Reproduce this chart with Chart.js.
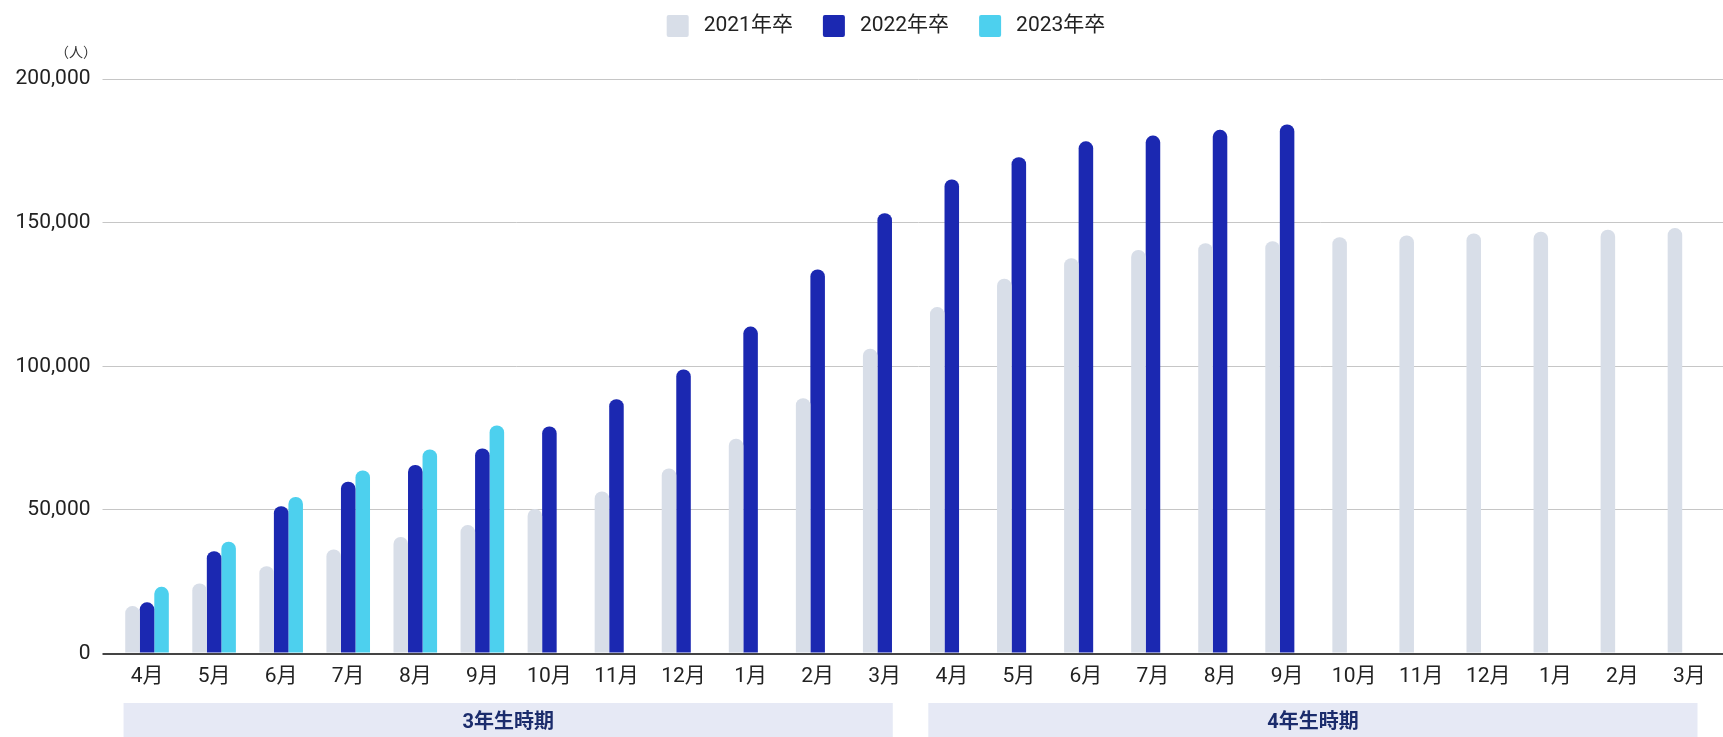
<!DOCTYPE html>
<html lang="ja">
<head>
<meta charset="utf-8">
<script src="https://cdn.jsdelivr.net/npm/chart.js@4"></script>
<style>
  html, body { margin: 0; padding: 0; background: #fff; }
  #wrap { width: 1723px; height: 737px; position: relative; }
</style>
</head>
<body>
<div id="wrap"><canvas id="chart"></canvas></div>
<script>
// months on the x axis (3年生 Apr-Mar, then 4年生 Apr-Mar)
const months = ['4月','5月','6月','7月','8月','9月','10月','11月','12月','1月','2月','3月',
                '4月','5月','6月','7月','8月','9月','10月','11月','12月','1月','2月','3月'];

const seriesNames = ['2021年卒', '2022年卒', '2023年卒'];

const grad2021 = [16500, 24400, 30400, 36200, 40600, 44700, 50300, 56400, 64400, 74800, 88900, 106100,
                  120600, 130500, 137600, 140500, 142800, 143500, 144900, 145500, 146200, 146800, 147500, 148100];
const grad2022 = [17800, 35600, 51300, 59800, 65600, 71400, 79000, 88500, 98900, 113800, 133700, 153300,
                  165000, 172800, 178300, 180300, 182300, 184200, null, null, null, null, null, null];
const grad2023 = [23200, 38900, 54500, 63700, 71000, 79400, null, null, null, null, null, null,
                  null, null, null, null, null, null, null, null, null, null, null, null];

// period bands under the axis: label, first and last month index
const periodLabels = ['3年生時期', '4年生時期'];
const periodStart = [0, 12];
const periodEnd = [11, 23];

const yTicks = [0, 50000, 100000, 150000, 200000];

const FONT = "Roboto, 'Noto Sans CJK JP', sans-serif";
const colors = ['#D8DEE8', '#1B28B1', '#4DD0EE'];

// custom legend at the top
const topLegend = {
  id: 'topLegend',
  afterDraw(chart) {
    const ctx = chart.ctx;
    ctx.save();
    ctx.font = '21px ' + FONT;
    const box = 22, gap = 15, space = 30;
    const widths = seriesNames.map(n => ctx.measureText(n).width);
    const total = widths.reduce((s, w) => s + box + gap + w, 0) + space * (seriesNames.length - 1);
    let x = 886 - total / 2;
    const cy = 26;
    seriesNames.forEach((name, i) => {
      ctx.fillStyle = colors[i];
      ctx.beginPath();
      ctx.roundRect(x, cy - box / 2, box, box, 2);
      ctx.fill();
      ctx.fillStyle = '#222';
      ctx.textAlign = 'left';
      ctx.textBaseline = 'middle';
      ctx.fillText(name, x + box + gap, cy);
      x += box + gap + widths[i] + space;
    });
    // unit label
    ctx.font = '14px ' + FONT;
    ctx.textAlign = 'right';
    ctx.fillStyle = '#333';
    ctx.fillText('（人）', 97, 53);
    ctx.restore();
  }
};

// period bands under the month labels
const periodBands = {
  id: 'periodBands',
  afterDraw(chart) {
    const ctx = chart.ctx;
    const xs = chart.scales.x;
    const w = xs.getPixelForValue(1) - xs.getPixelForValue(0);
    ctx.save();
    periodLabels.forEach((label, i) => {
      const left = xs.getPixelForValue(periodStart[i]) - 0.35 * w;
      const right = xs.getPixelForValue(periodEnd[i]) + 0.12 * w;
      ctx.fillStyle = '#E6E9F5';
      ctx.fillRect(left, 703, right - left, chart.height - 703);
      ctx.fillStyle = '#1B2C6C';
      ctx.font = 'bold 20px ' + FONT;
      ctx.textAlign = 'center';
      ctx.textBaseline = 'middle';
      ctx.fillText(label, (left + right) / 2, 723);
    });
    ctx.restore();
  }
};

const radius = { topLeft: 7, topRight: 7, bottomLeft: 0, bottomRight: 0 };

new Chart(document.getElementById('chart'), {
  type: 'bar',
  data: {
    labels: months,
    datasets: [
      { label: seriesNames[0], data: grad2021, backgroundColor: colors[0], borderRadius: radius, borderSkipped: 'start' },
      { label: seriesNames[1], data: grad2022, backgroundColor: colors[1], borderRadius: radius, borderSkipped: 'start' },
      { label: seriesNames[2], data: grad2023, backgroundColor: colors[2], borderRadius: radius, borderSkipped: 'start' }
    ]
  },
  options: {
    responsive: true,
    maintainAspectRatio: false,
    animation: false,
    categoryPercentage: 0.65,
    barPercentage: 1.0,
    layout: { padding: { top: 79, right: 0, bottom: 43.5, left: 0 } },
    plugins: {
      legend: { display: false },
      tooltip: { enabled: false }
    },
    scales: {
      x: {
        grid: { display: false, drawTicks: false },
        border: { display: false },
        ticks: {
          color: '#222',
          font: { family: FONT, size: 21 },
          padding: 11,
          autoSkip: false,
          maxRotation: 0
        },
        afterFit(scale) { scale.height = 40; }
      },
      y: {
        min: 0,
        max: 200000,
        afterBuildTicks(scale) { scale.ticks = yTicks.map(v => ({ value: v })); },
        grid: {
          color: ctx => ctx.tick && ctx.tick.value === 0 ? '#444' : '#C6C6C6',
          lineWidth: ctx => ctx.tick && ctx.tick.value === 0 ? 2 : 1,
          drawTicks: true,
          tickLength: 11
        },
        border: { display: false },
        ticks: {
          color: '#222',
          font: { family: FONT, size: 21 },
          padding: 12,
          callback: v => v.toLocaleString('en-US')
        },
        afterFit(scale) { scale.width = 113.5; }
      }
    }
  },
  plugins: [topLegend, periodBands]
});
</script>
</body>
</html>
